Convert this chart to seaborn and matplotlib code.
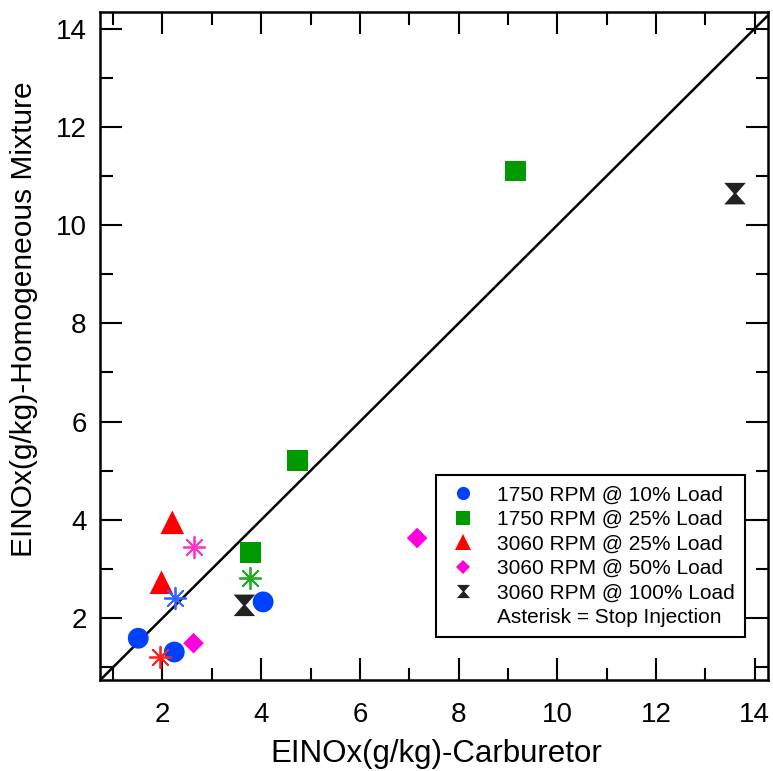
import matplotlib
matplotlib.use("Agg")
import matplotlib.pyplot as plt
from matplotlib.path import Path
from matplotlib.lines import Line2D
from matplotlib.ticker import MultipleLocator
import seaborn as sns

sns.set_theme(style="white")
plt.rcParams["font.family"] = ["Liberation Sans", "DejaVu Sans"]
plt.rcParams["text.color"] = "black"
plt.rcParams["axes.labelcolor"] = "black"
plt.rcParams["xtick.color"] = "black"
plt.rcParams["ytick.color"] = "black"

# EINOx (g/kg): carburetor (x) vs homogeneous mixture (y)
rpm1750_10_x = [1.51, 2.24, 4.04]
rpm1750_10_y = [1.59, 1.31, 2.33]
rpm1750_10_stop_x = [2.26]
rpm1750_10_stop_y = [2.41]

rpm1750_25_x = [3.78, 4.73, 9.15]
rpm1750_25_y = [3.34, 5.21, 11.10]
rpm1750_25_stop_x = [3.78]
rpm1750_25_stop_y = [2.81]

rpm3060_25_x = [2.20, 1.98]
rpm3060_25_y = [3.95, 2.73]
rpm3060_25_stop_x = [1.96]
rpm3060_25_stop_y = [1.21]

rpm3060_50_x = [2.63, 7.16]
rpm3060_50_y = [1.49, 3.63]
rpm3060_50_stop_x = [2.63]
rpm3060_50_stop_y = [3.44]

rpm3060_100_x = [3.66, 13.60]
rpm3060_100_y = [2.26, 10.64]

legend_labels = [
    "1750 RPM @ 10% Load",
    "1750 RPM @ 25% Load",
    "3060 RPM @ 25% Load",
    "3060 RPM @ 50% Load",
    "3060 RPM @ 100% Load",
    "Asterisk = Stop Injection",
]

blue = "#0040ff"
green = "#009900"
red = "#ff0000"
magenta = "#ff00dd"
black = "#222222"

# hourglass marker: two triangles joined by a narrow neck
hourglass = Path(
    [(-1, 1), (1, 1), (0.12, 0), (1, -1), (-1, -1), (-0.12, 0), (-1, 1)],
    [Path.MOVETO, Path.LINETO, Path.LINETO, Path.LINETO, Path.LINETO,
     Path.LINETO, Path.CLOSEPOLY],
)
star = (8, 2, 0)

fig, ax = plt.subplots(figsize=(7.73, 7.71), dpi=100)
fig.subplots_adjust(left=0.13, right=0.993, top=0.984, bottom=0.118)

ax.set_xlim(0.745, 14.26)
ax.set_ylim(0.74, 14.33)

# 1:1 reference line
ax.plot([0.0, 15.0], [0.0, 15.0], color="black", lw=1.8, zorder=1)


def pts(x, y, marker, color, s, lw=0.0):
    sns.scatterplot(x=x, y=y, marker=marker, s=s, color=color,
                    edgecolor=color if lw else "none", linewidth=lw,
                    ax=ax, zorder=3)


pts(rpm1750_10_x, rpm1750_10_y, "o", blue, 15 ** 2)
pts(rpm1750_25_x, rpm1750_25_y, "s", green, 15 ** 2)
pts(rpm3060_25_x, rpm3060_25_y, "^", red, 17 ** 2)
pts(rpm3060_50_x, rpm3060_50_y, "D", magenta, 10.5 ** 2)
pts(rpm3060_100_x, rpm3060_100_y, hourglass, black, 15.5 ** 2)

pts(rpm1750_10_stop_x, rpm1750_10_stop_y, star, "#3366ff", 15.5 ** 2, lw=1.3)
pts(rpm1750_25_stop_x, rpm1750_25_stop_y, star, "#22aa22", 15.5 ** 2, lw=1.3)
pts(rpm3060_25_stop_x, rpm3060_25_stop_y, star, "#ff2222", 15.5 ** 2, lw=1.3)
pts(rpm3060_50_stop_x, rpm3060_50_stop_y, star, "#ff33cc", 15.5 ** 2, lw=1.3)

ax.xaxis.set_major_locator(MultipleLocator(2))
ax.xaxis.set_minor_locator(MultipleLocator(1))
ax.yaxis.set_major_locator(MultipleLocator(2))
ax.yaxis.set_minor_locator(MultipleLocator(1))
ax.tick_params(which="both", direction="in", top=True, right=True,
               bottom=True, left=True, color="black", width=1.5)
ax.tick_params(which="major", length=16, labelsize=20)
ax.tick_params(which="minor", length=9)
ax.tick_params(axis="x", which="major", pad=16)
ax.tick_params(axis="y", which="major", pad=10)
for sp in ax.spines.values():
    sp.set_color("black")
    sp.set_linewidth(1.8)

ax.set_xlabel("EINOx(g/kg)-Carburetor", fontsize=22.5)
ax.set_ylabel("EINOx(g/kg)-Homogeneous Mixture", fontsize=21.5)
ax.xaxis.set_label_coords(0.504, -0.088)
ax.yaxis.set_label_coords(-0.094, 0.54)

handles = [
    Line2D([], [], ls="none", marker="o", color=blue, markersize=9.5, markeredgewidth=0),
    Line2D([], [], ls="none", marker="s", color=green, markersize=9.5, markeredgewidth=0),
    Line2D([], [], ls="none", marker="^", color=red, markersize=11, markeredgewidth=0),
    Line2D([], [], ls="none", marker="D", color=magenta, markersize=7, markeredgewidth=0),
    Line2D([], [], ls="none", marker=hourglass, color=black, markersize=9.5, markeredgewidth=0),
    Line2D([], [], ls="none", marker=None),
]
leg = ax.legend(handles, legend_labels, loc="lower right",
                bbox_to_anchor=(0.966, 0.064), fontsize=15, frameon=True,
                fancybox=False, edgecolor="black", framealpha=1,
                handletextpad=0.8, labelspacing=0.26, borderpad=0.5,
                handlelength=1.6, borderaxespad=0)
leg.get_frame().set_linewidth(1.5)

fig.savefig("out.png", dpi=100)
